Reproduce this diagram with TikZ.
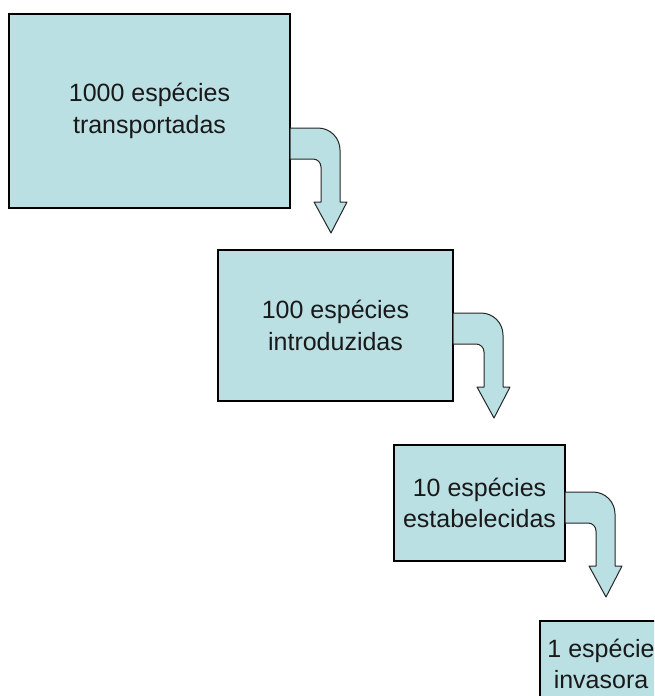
\documentclass[tikz,border=0pt]{standalone}
\usepackage{fontspec}
\setmainfont{Liberation Sans}
\usepackage{tikz}
\usetikzlibrary{arrows.meta}

\definecolor{boxfill}{HTML}{BAE0E4}

% bent arrow leaving a box on its right side
\newcommand{\bendarrow}[1]{%
    \filldraw[arrowline] (#1) -- ++(28,0) arc[start angle=90,end angle=0,radius=22pt]
        -- ++(0,-52) -- ++(7,0) -- ++(-16,-31) -- ++(-17,31) -- ++(7,0)
        -- ++(0,35) arc[start angle=0,end angle=90,radius=8pt] -- ++(-23,0) -- cycle;}

\begin{document}
\begin{tikzpicture}[x=1pt,y=1pt,
    stage/.style={draw=black,line width=1.2pt,fill=boxfill,inner sep=0pt,
        align=center,text=black!90,font=\fontsize{25}{31.5}\selectfont},
    arrowline/.style={draw=black!85,line width=1pt,fill=boxfill,line join=round}]

    \clip (0,0) rectangle (654,-696);

    % transported species
    \node[stage,minimum width=281,minimum height=194] (tra) at (149.5,-111) {1000 espécies\\transportadas};
    \coordinate (a1) at (290,-128);
    \bendarrow{a1}

    %%%%%%%%%%%%%%%%%%%%%%%%%%%%%%%%%%%%%%%%%%%%%%%%%%%%%%

    % introduced species
    \node[stage,minimum width=235,minimum height=151] (int) at (335.5,-325.5) {100 espécies\\introduzidas};
    \coordinate (a2) at (453,-313);
    \bendarrow{a2}

    %%%%%%%%%%%%%%%%%%%%%%%%%%%%%%%%%%%%%%%%%%%%%%%%%%%%%%

    % established species
    \node[stage,minimum width=171,minimum height=116] (est) at (479.5,-503) {10 espécies\\estabelecidas};
    \coordinate (a3) at (565,-492);
    \bendarrow{a3}

    %%%%%%%%%%%%%%%%%%%%%%%%%%%%%%%%%%%%%%%%%%%%%%%%%%%%%%

    % invasive species (cut by the page)
    \node[stage,minimum width=122,minimum height=86] (inv) at (601,-664) {1 espécie\\invasora};

\end{tikzpicture}
\end{document}
